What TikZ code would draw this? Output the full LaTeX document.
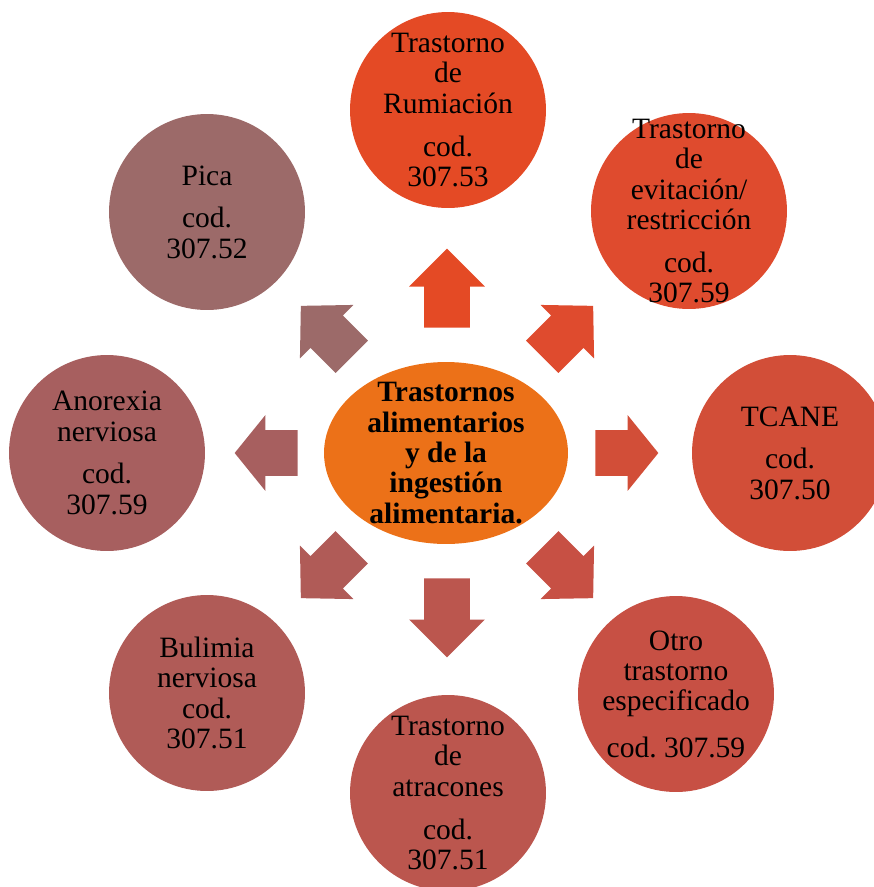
\documentclass[tikz,border=0pt]{standalone}
\usepackage{fontspec}
\setmainfont{Liberation Serif}
\usetikzlibrary{shapes.geometric,shapes.arrows}

\definecolor{cMid}{HTML}{EC7118}
\definecolor{cRum}{HTML}{E44A25}
\definecolor{cEvi}{HTML}{DF4B2E}
\definecolor{cTca}{HTML}{D24E38}
\definecolor{cOtr}{HTML}{C75044}
\definecolor{cAtr}{HTML}{BB564E}
\definecolor{cBul}{HTML}{B05B57}
\definecolor{cAno}{HTML}{A75F5F}
\definecolor{cPic}{HTML}{9C6A69}

\tikzset{
  disc/.style={circle, minimum size=3.92cm, inner sep=0pt},
  blk/.style={single arrow, anchor=tail, inner xsep=0pt, inner ysep=0.45cm, minimum width=1.5cm, single arrow head extend=0.3cm},
  lbl/.style={align=center, inner sep=0pt, font=\fontsize{16.8}{17.3}\selectfont},
  lblb/.style={lbl, font=\fontsize{16.8}{17.3}\selectfont\bfseries},
}

\begin{document}
\begin{tikzpicture}[x=0.02cm, y=-0.02cm]

\useasboundingbox (0,0) rectangle (874,887);
\clip (0,0) rectangle (874,887);

% NODES %%%%%%%%%%%%%%%%%%%%%%%%%%%%%%%%%%%%%%%%%%%%%%%%%%%%%%%%%%%%%%%%%%

\node[ellipse, minimum width=4.88cm, minimum height=3.64cm, inner sep=0pt, fill=cMid] (Mid) at (446,453) {};

\node[disc, fill=cRum] (Rum) at (448,110) {};
\node[disc, fill=cEvi] (Evi) at (689,211) {};
\node[disc, fill=cTca] (Tca) at (790,453) {};
\node[disc, fill=cOtr] (Otr) at (676,694) {};
\node[disc, fill=cAtr] (Atr) at (448,793) {};
\node[disc, fill=cBul] (Bul) at (207,693) {};
\node[disc, fill=cAno] (Ano) at (107,453) {};
\node[disc, fill=cPic] (Pic) at (207,212) {};

% FLECHES %%%%%%%%%%%%%%%%%%%%%%%%%%%%%%%%%%%%%%%%%%%%%%%%%%%%%%%%%%%%%%%%

\node[blk, fill=cRum, minimum height=1.58cm, single arrow tip angle=90, rotate=90] (aRum) at (447,328) {};
\node[blk, fill=cEvi, minimum height=1.44cm, single arrow tip angle=92, rotate=45] (aEvi) at (542,357) {};
\node[blk, fill=cTca, minimum height=1.26cm, single arrow tip angle=102, rotate=0] (aTca) at (595,453) {};
\node[blk, fill=cOtr, minimum height=1.44cm, single arrow tip angle=92, rotate=-45] (aOtr) at (542,547) {};
\node[blk, fill=cAtr, minimum height=1.58cm, single arrow tip angle=90, rotate=-90] (aAtr) at (447,578) {};
\node[blk, fill=cBul, minimum height=1.44cm, single arrow tip angle=92, rotate=-135] (aBul) at (352,547) {};
\node[blk, fill=cAno, minimum height=1.26cm, single arrow tip angle=102, rotate=180] (aAno) at (298,453) {};
\node[blk, fill=cPic, minimum height=1.44cm, single arrow tip angle=92, rotate=135] (aPic) at (352,357) {};

% ETIQUETTES

\node[lblb] (MidT) at (Mid) {Trastornos\\alimentarios\\y de la\\ingestión\\alimentaria.};

\node[lbl] (RumT) at (Rum) {Trastorno\\de\\Rumiación\\[7pt]cod.\\307.53};
\node[lbl] (EviT) at (Evi) {Trastorno\\de\\evitación/\\restricción\\[7pt]cod.\\307.59};
\node[lbl] (TcaT) at (Tca) {TCANE\\[7pt]cod.\\307.50};
\node[lbl] (OtrT) at (Otr) {Otro\\trastorno\\especificado\\[9pt]cod.\ 307.59};
\node[lbl] (AtrT) at (Atr) {Trastorno\\de\\atracones\\[7pt]cod.\\307.51};
\node[lbl] (BulT) at (Bul) {Bulimia\\nerviosa\\cod.\\307.51};
\node[lbl] (AnoT) at (Ano) {Anorexia\\nerviosa\\[7pt]cod.\\307.59};
\node[lbl] (PicT) at (Pic) {Pica\\[7pt]cod.\\307.52};

\end{tikzpicture}
\end{document}
